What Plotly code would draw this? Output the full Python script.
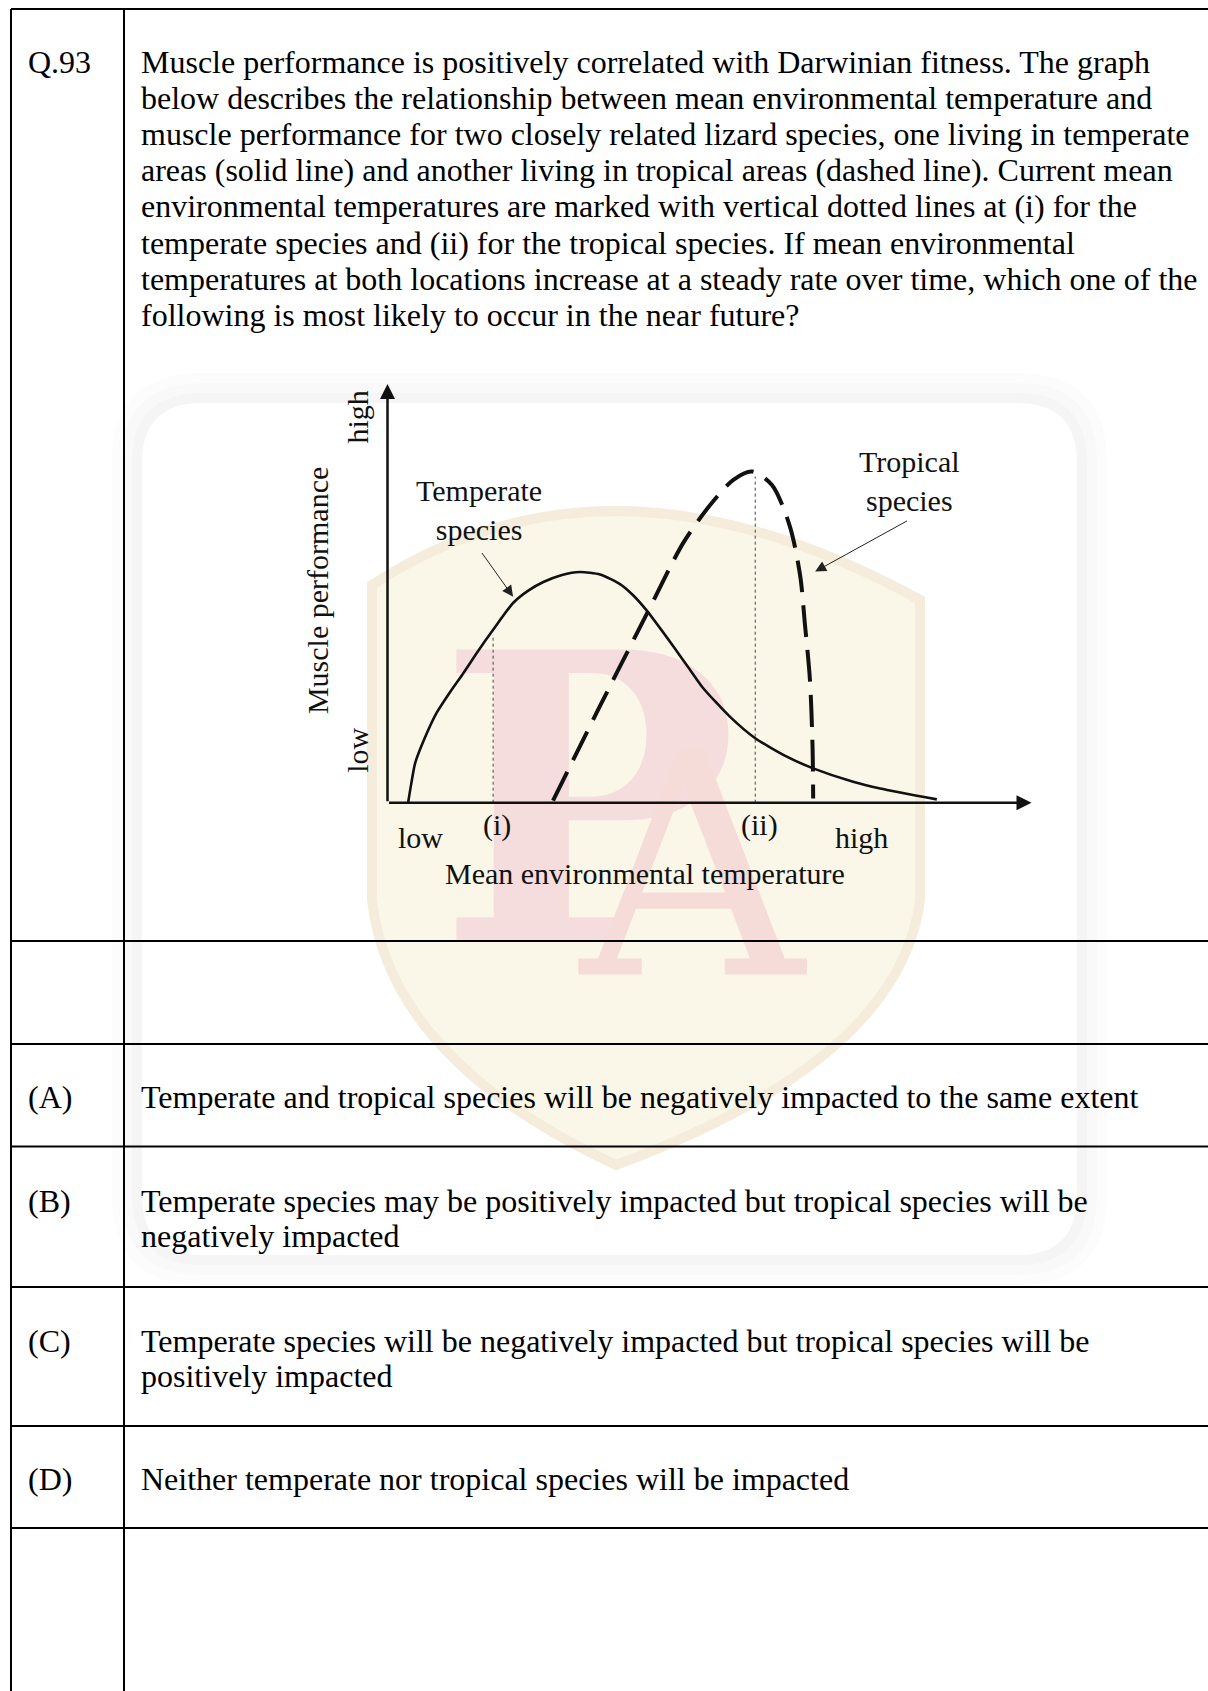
import plotly.graph_objects as go

W, H = 1208, 1691
FONT = "Liberation Serif"

# ---- chart data (mean temperature vs muscle performance, arbitrary 0-100 units)
temperate_x = [3.2, 3.65, 4.3, 5.8, 7.6, 9.7, 11.8, 14.1, 16.4, 19.5, 21.8, 24.2, 27.1, 29.9, 33.0,
               36.1, 38.1, 40.3, 44.4, 47.0, 49.0, 53.2, 57.1, 62.0, 66.1, 72.3, 76.5, 85.3]
temperate_y = [0.0, 4.2, 9.5, 15.5, 21.4, 26.4, 31.0, 36.3, 41.3, 47.7, 50.6, 52.7, 54.4, 55.1, 54.5,
               52.2, 49.6, 45.8, 37.3, 31.7, 27.4, 20.5, 15.4, 11.0, 8.2, 5.0, 3.4, 0.8]
tropical_x = [25.7, 33.0, 40.3, 45.9, 50.1, 53.7, 56.6, 59.7, 62.5, 64.1, 64.8, 65.6, 66.0, 66.1]
tropical_y = [0.5, 23.1, 45.2, 62.0, 71.1, 77.1, 79.1, 75.9, 65.9, 54.0, 42.9, 29.3, 13.4, 1.0]
current_temp = [16.4, 57.1]      # (i) temperate, (ii) tropical
current_top = [40.1, 77.9]
current_labels = ["(i)", "(ii)"]

# ---- question text
question_no = "Q.93"
question_lines = [
    "Muscle performance is positively correlated with Darwinian fitness. The graph",
    "below describes the relationship between mean environmental temperature and",
    "muscle performance for two closely related lizard species, one living in temperate",
    "areas (solid line) and another living in tropical areas (dashed line). Current mean",
    "environmental temperatures are marked with vertical dotted lines at (i) for the",
    "temperate species and (ii) for the tropical species. If mean environmental",
    "temperatures at both locations increase at a steady rate over time, which one of the",
    "following is most likely to occur in the near future?",
]
option_labels = ["(A)", "(B)", "(C)", "(D)"]
option_texts = [
    ["Temperate and tropical species will be negatively impacted to the same extent"],
    ["Temperate species may be positively impacted but tropical species will be", "negatively impacted"],
    ["Temperate species will be negatively impacted but tropical species will be", "positively impacted"],
    ["Neither temperate nor tropical species will be impacted"],
]

# table grid (page pixels)
col_x = [11, 124]
row_y = [9, 941, 1044, 1146.5, 1287, 1426, 1528]


def rrect(x0, y0, x1, y1, r):
    return (f"M{x0+r},{y0} L{x1-r},{y0} Q{x1},{y0} {x1},{y0+r} L{x1},{y1-r} "
            f"Q{x1},{y1} {x1-r},{y1} L{x0+r},{y1} Q{x0},{y1} {x0},{y1-r} "
            f"L{x0},{y0+r} Q{x0},{y0} {x0+r},{y0} Z")


fig = go.Figure()

# watermark letters (page axes, drawn under the chart)
fig.add_trace(go.Scatter(x=[588], y=[841], mode='text', text=['P'], xaxis='x', yaxis='y',
                         textfont=dict(family="DejaVu Serif", size=400, color='#f6dddd', weight='bold'),
                         hoverinfo='skip', showlegend=False))
fig.add_trace(go.Scatter(x=[692], y=[897], mode='text', text=['A'], xaxis='x', yaxis='y',
                         textfont=dict(family="DejaVu Serif", size=310, color='#f6dcd8'),
                         hoverinfo='skip', showlegend=False))

# curves
fig.add_trace(go.Scatter(x=temperate_x, y=temperate_y, mode='lines', xaxis='x2', yaxis='y2',
                         line=dict(color='#111111', width=2.6, shape='spline', smoothing=0.6),
                         showlegend=False))
fig.add_trace(go.Scatter(x=tropical_x, y=tropical_y, mode='lines', xaxis='x2', yaxis='y2',
                         line=dict(color='#111111', width=4, dash='32px,13px', shape='spline', smoothing=0.8),
                         showlegend=False))
for t, top in zip(current_temp, current_top):
    fig.add_trace(go.Scatter(x=[t, t], y=[0, top], mode='lines', xaxis='x2', yaxis='y2',
                             line=dict(color='#444444', width=1, dash='dot'), showlegend=False))

shapes = []
# soft shadow + white card behind the figure
for pad, col in [(30, '#fcfcfc'), (20, '#f9f9f9'), (10, '#f5f5f5')]:
    shapes.append(dict(type='path', xref='x', yref='y', layer='below',
                       path=rrect(142 - pad, 403 - pad, 1077 + pad, 1255 + pad, 60 + pad),
                       fillcolor=col, line=dict(width=0)))
shapes.append(dict(type='path', xref='x', yref='y', layer='below',
                   path=rrect(142, 403, 1077, 1255, 60), fillcolor='white', line=dict(width=0)))
# shield
shapes.append(dict(type='path', xref='x', yref='y', layer='below',
                   path="M372,585 Q610,430 920,600 L920,900 Q900,1060 616,1165 Q390,1060 372,900 Z",
                   fillcolor='#fbf7e8', line=dict(color='#f5ecdc', width=10)))
# table lines
for x in col_x:
    shapes.append(dict(type='line', xref='x', yref='y', x0=x, x1=x, y0=row_y[0], y1=H,
                       line=dict(color='black', width=2)))
for y in row_y:
    shapes.append(dict(type='line', xref='x', yref='y', x0=col_x[0], x1=W, y0=y, y1=y,
                       line=dict(color='black', width=2)))

ann = []
TXT = dict(family=FONT, size=32, color='black')
ann.append(dict(x=26, y=62, xref='x', yref='y', text=question_no, showarrow=False,
                xanchor='left', yanchor='middle', font=TXT))
for i, line in enumerate(question_lines):
    ann.append(dict(x=139, y=62 + 36.1 * i, xref='x', yref='y', text=line, showarrow=False,
                    xanchor='left', yanchor='middle', font=TXT))
for k, (lab_, lines) in enumerate(zip(option_labels, option_texts)):
    top, bot = row_y[k + 2], row_y[k + 3]
    cy = (top + bot) / 2 + 1.5
    ann.append(dict(x=26, y=cy - 17.5 * (len(lines) - 1), xref='x', yref='y', text=lab_,
                    showarrow=False, xanchor='left', yanchor='middle', font=TXT))
    for j, line in enumerate(lines):
        ann.append(dict(x=139, y=cy - 17.5 * (len(lines) - 1) + 35 * j, xref='x', yref='y',
                        text=line, showarrow=False, xanchor='left', yanchor='middle', font=TXT))

# chart axes as arrows
AX = dict(xref='x2', yref='y2', axref='x2', ayref='y2', showarrow=True, text='',
          arrowhead=2, arrowsize=1.2, arrowwidth=2.5, arrowcolor='#111111')
ann.append(dict(AX, x=100, y=0, ax=0, ay=0))
ann.append(dict(AX, x=0, y=100, ax=0, ay=0))
# pointer arrows
PT = dict(xref='x2', yref='y2', axref='x2', ayref='y2', showarrow=True, text='',
          arrowhead=2, arrowsize=2.2, arrowwidth=1, arrowcolor='#222222')
ann.append(dict(PT, x=19.5, y=49.2, ax=14.5, ay=60.0))
ann.append(dict(PT, x=66.4, y=55.2, ax=80.9, ay=67.5))

CF = dict(family=FONT, size=30, color='#111111')
def lab(x, y, t, size=30, angle=0):
    return dict(x=x, y=y, xref='x2', yref='y2', text=t, showarrow=False, textangle=angle,
                xanchor='center', yanchor='middle', font=dict(CF, size=size))

ann += [
    lab(14.2, 69.8, "Temperate<br>species"),
    lab(81.0, 76.8, "Tropical<br>species"),
    lab(-4.6, 92.2, "high", angle=-90),
    lab(-4.6, 12.6, "low", angle=-90),
    lab(-10.75, 50.6, "Muscle performance", angle=-90),
    lab(5.05, -8.3, "low"),
    lab(73.6, -8.3, "high"),
    lab(40.0, -17.0, "Mean environmental temperature"),
]
for t, l in zip(current_temp, current_labels):
    ann.append(lab(t + 0.6, -5.3, l))

# chart axes: 0..100 is the drawn plot; negative part of the range holds the labels
x0_px, x100_px = 387.5, 1031.5
y0_px, y100_px = 802.7, 384.0
xpu = (x100_px - x0_px) / 100
ypu = (y0_px - y100_px) / 100
xlo, ylo = -13, -23

fig.update_layout(
    width=W, height=H, margin=dict(l=0, r=0, t=0, b=0),
    paper_bgcolor='white', plot_bgcolor='rgba(0,0,0,0)',
    xaxis=dict(domain=[0, 1], range=[0, W], visible=False),
    yaxis=dict(domain=[0, 1], range=[H, 0], visible=False),
    xaxis2=dict(domain=[(x0_px + xlo * xpu) / W, x100_px / W], range=[xlo, 100],
                visible=False, anchor='y2'),
    yaxis2=dict(domain=[1 - (y0_px - ylo * ypu) / H, 1 - y100_px / H], range=[ylo, 100],
                visible=False, anchor='x2'),
    shapes=shapes, annotations=ann, showlegend=False,
)

fig.write_html("out.html", config={'displayModeBar': False},
               post_script="document.body.style.margin='0';")
